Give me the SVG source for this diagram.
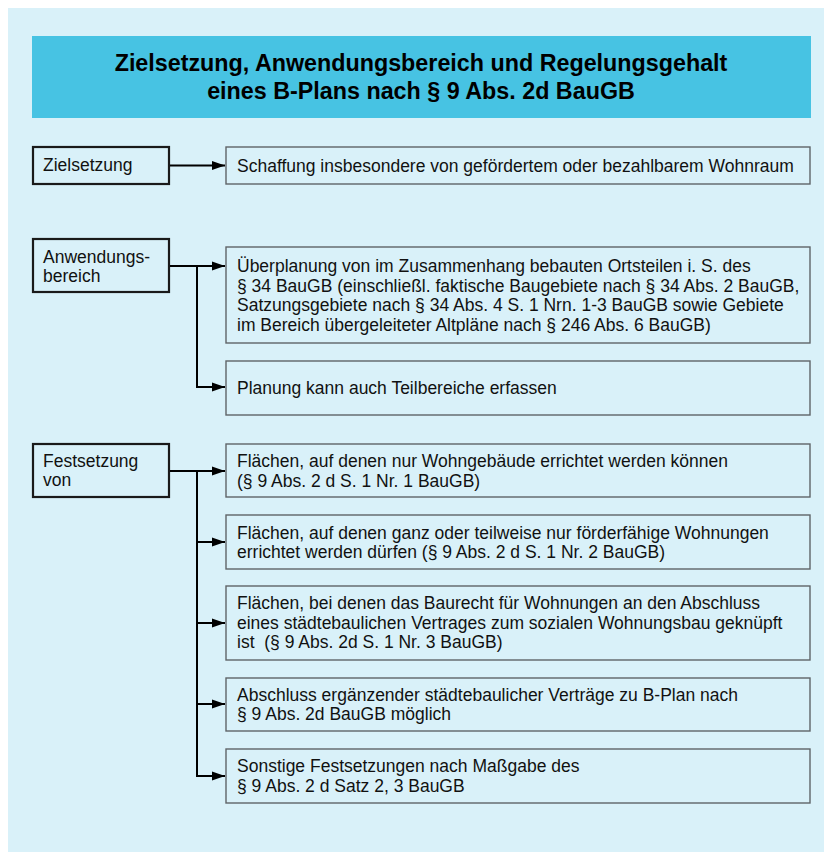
<svg xmlns="http://www.w3.org/2000/svg" width="824" height="852" viewBox="0 0 824 852">
<style>
.bg{fill:#d9f1f9}
.title{fill:#47c3e3}
.tt{font-family:"Liberation Sans",Arial,sans-serif;font-weight:bold;font-size:23.3px;fill:#000;text-anchor:middle}
.lb{fill:none;stroke:#1a1a1a;stroke-width:2.2}
.rb{fill:none;stroke:#5f6468;stroke-width:1.4}
.t{font-family:"Liberation Sans",Arial,sans-serif;font-size:17.5px;fill:#111}
.c{fill:none;stroke:#000;stroke-width:2}
</style>
<defs>
<marker id="ah" markerUnits="userSpaceOnUse" markerWidth="13" markerHeight="10" refX="13" refY="5" orient="auto">
<path d="M0,0.5 L13,5 L0,9.5 z" fill="#000"/>
</marker>
</defs>
<rect class="bg" x="8" y="8" width="816" height="844"/>
<g id="title">
<rect class="title" x="32" y="36" width="779" height="82"/>
<text class="tt" x="421" y="71">Zielsetzung, Anwendungsbereich und Regelungsgehalt</text>
<text class="tt" x="421" y="99">eines B-Plans nach § 9 Abs. 2d BauGB</text>
</g>
<g id="n-ziel">
<rect class="lb" x="33" y="147" width="136" height="37"/>
<text class="t" x="43" y="171">Zielsetzung</text>
</g>
<g id="n-anw">
<rect class="lb" x="33" y="239" width="136" height="53"/>
<text class="t" x="43" y="263">Anwendungs-</text>
<text class="t" x="43" y="282">bereich</text>
</g>
<g id="n-fest">
<rect class="lb" x="33" y="444" width="136" height="53"/>
<text class="t" x="43" y="467">Festsetzung</text>
<text class="t" x="43" y="486">von</text>
</g>
<g id="r1">
<rect class="rb" x="226" y="147" width="584" height="37"/>
<text class="t" x="237" y="172">Schaffung insbesondere von gefördertem oder bezahlbarem Wohnraum</text>
</g>
<g id="r2">
<rect class="rb" x="226" y="247" width="584" height="96"/>
<text class="t" x="237" y="272">Überplanung von im Zusammenhang bebauten Ortsteilen i. S. des</text>
<text class="t" x="237" y="291.5">§ 34 BauGB (einschließl. faktische Baugebiete nach § 34 Abs. 2 BauGB,</text>
<text class="t" x="237" y="311">Satzungsgebiete nach § 34 Abs. 4 S. 1 Nrn. 1-3 BauGB sowie Gebiete</text>
<text class="t" x="237" y="330.5">im Bereich übergeleiteter Altpläne nach § 246 Abs. 6 BauGB)</text>
</g>
<g id="r3">
<rect class="rb" x="226" y="361" width="584" height="54"/>
<text class="t" x="237" y="394">Planung kann auch Teilbereiche erfassen</text>
</g>
<g id="r4">
<rect class="rb" x="226" y="444" width="584" height="53"/>
<text class="t" x="237" y="467">Flächen, auf denen nur Wohngebäude errichtet werden können</text>
<text class="t" x="237" y="486.5">(§ 9 Abs. 2 d S. 1 Nr. 1 BauGB)</text>
</g>
<g id="r5">
<rect class="rb" x="226" y="515" width="584" height="54"/>
<text class="t" x="237" y="538.5">Flächen, auf denen ganz oder teilweise nur förderfähige Wohnungen</text>
<text class="t" x="237" y="558">errichtet werden dürfen (§ 9 Abs. 2 d S. 1 Nr. 2 BauGB)</text>
</g>
<g id="r6">
<rect class="rb" x="226" y="586" width="584" height="74"/>
<text class="t" x="237" y="609">Flächen, bei denen das Baurecht für Wohnungen an den Abschluss</text>
<text class="t" x="237" y="628.5">eines städtebaulichen Vertrages zum sozialen Wohnungsbau geknüpft</text>
<text class="t" x="237" y="648" xml:space="preserve">ist  (§ 9 Abs. 2d S. 1 Nr. 3 BauGB)</text>
</g>
<g id="r7">
<rect class="rb" x="226" y="678" width="584" height="53"/>
<text class="t" x="237" y="700.5">Abschluss ergänzender städtebaulicher Verträge zu B-Plan nach</text>
<text class="t" x="237" y="720">§ 9 Abs. 2d BauGB möglich</text>
</g>
<g id="r8">
<rect class="rb" x="226" y="749" width="584" height="54"/>
<text class="t" x="237" y="772">Sonstige Festsetzungen nach Maßgabe des</text>
<text class="t" x="237" y="792">§ 9 Abs. 2 d Satz 2, 3 BauGB</text>
</g>
<g id="connectors">
<path class="c" d="M170,165.5 H225" marker-end="url(#ah)"/>
<path class="c" d="M170,266 H225" marker-end="url(#ah)"/>
<path class="c" d="M197,266 V387 H225" marker-end="url(#ah)"/>
<path class="c" d="M170,471 H225" marker-end="url(#ah)"/>
<path class="c" d="M197,471 V776 H225" marker-end="url(#ah)"/>
<path class="c" d="M197,542 H225" marker-end="url(#ah)"/>
<path class="c" d="M197,623 H225" marker-end="url(#ah)"/>
<path class="c" d="M197,704 H225" marker-end="url(#ah)"/>
</g>
</svg>
